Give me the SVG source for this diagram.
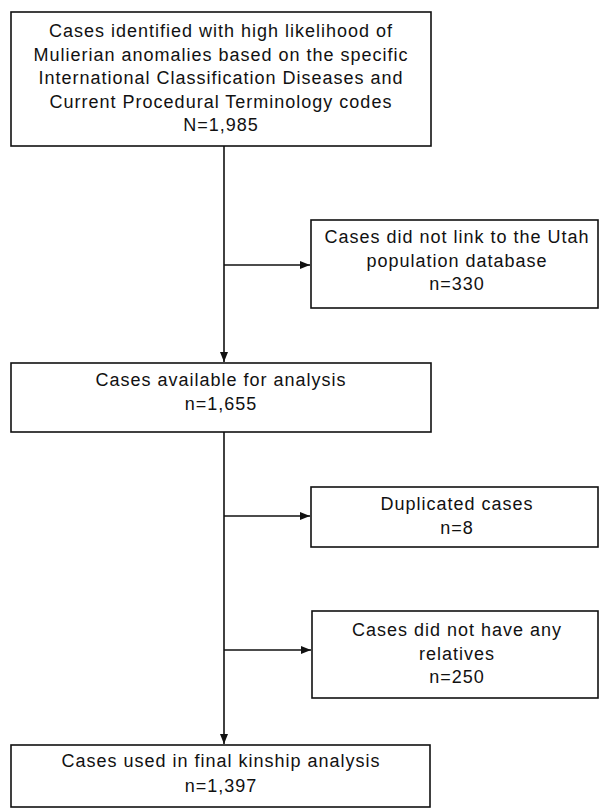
<svg xmlns="http://www.w3.org/2000/svg" width="600" height="809" viewBox="0 0 600 809">
<style>
  .box { fill: #ffffff; stroke: #111111; stroke-width: 1.6; }
  .lbl { font-family: "Liberation Sans", Arial, sans-serif; font-size: 18px; letter-spacing: 1px; fill: #111111; text-anchor: middle; }
  .conn { stroke: #111111; stroke-width: 1.6; fill: none; }
</style>
<defs>
  <marker id="arr" viewBox="0 0 10 8" refX="10" refY="4" markerWidth="10" markerHeight="8" markerUnits="userSpaceOnUse" orient="auto">
    <path d="M0,0 L10,4 L0,8 Z" fill="#111111"/>
  </marker>
</defs>
<rect width="600" height="809" fill="#ffffff"/>
<g id="connectors">
  <line class="conn" x1="224" y1="146" x2="224" y2="362" marker-end="url(#arr)"/>
  <line class="conn" x1="224" y1="265" x2="310" y2="265" marker-end="url(#arr)"/>
  <line class="conn" x1="224" y1="432" x2="224" y2="744" marker-end="url(#arr)"/>
  <line class="conn" x1="224" y1="516" x2="310" y2="516" marker-end="url(#arr)"/>
  <line class="conn" x1="224" y1="650" x2="311" y2="650" marker-end="url(#arr)"/>
</g>
<g id="node-identified">
  <rect class="box" x="11" y="12" width="420" height="134"/>
  <text class="lbl" x="221" y="37">Cases identified with high likelihood of</text>
  <text class="lbl" x="221" y="60.5">Mulierian anomalies based on the specific</text>
  <text class="lbl" x="221" y="84">International Classification Diseases and</text>
  <text class="lbl" x="221" y="107.5">Current Procedural Terminology codes</text>
  <text class="lbl" x="221" y="131">N=1,985</text>
</g>
<g id="node-nolink">
  <rect class="box" x="311" y="220" width="287" height="88"/>
  <text class="lbl" x="457" y="243">Cases did not link to the Utah</text>
  <text class="lbl" x="457" y="267">population database</text>
  <text class="lbl" x="457" y="290">n=330</text>
</g>
<g id="node-available">
  <rect class="box" x="11" y="363" width="420" height="69"/>
  <text class="lbl" x="221" y="386">Cases available for analysis</text>
  <text class="lbl" x="221" y="410">n=1,655</text>
</g>
<g id="node-duplicated">
  <rect class="box" x="311" y="487" width="287" height="60"/>
  <text class="lbl" x="457" y="510">Duplicated cases</text>
  <text class="lbl" x="457" y="534">n=8</text>
</g>
<g id="node-norelatives">
  <rect class="box" x="312" y="611" width="286" height="87"/>
  <text class="lbl" x="457" y="636">Cases did not have any</text>
  <text class="lbl" x="457" y="660">relatives</text>
  <text class="lbl" x="457" y="683">n=250</text>
</g>
<g id="node-final">
  <rect class="box" x="11" y="745" width="419" height="62"/>
  <text class="lbl" x="221" y="767">Cases used in final kinship analysis</text>
  <text class="lbl" x="221" y="792">n=1,397</text>
</g>
</svg>
